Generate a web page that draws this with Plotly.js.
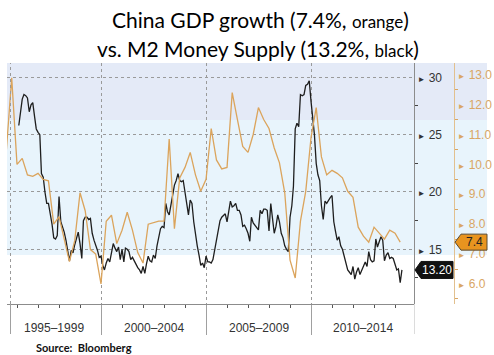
<!DOCTYPE html>
<html><head><meta charset="utf-8">
<script src="https://cdn.plot.ly/plotly-3.0.1.min.js"></script>
<style>html,body{margin:0;padding:0;background:#fff}</style>
</head><body><div id="chart" style="width:494px;height:355px"></div>
<script>
// M2 money supply, YoY %, monthly (month-end), Jan 1996 .. Apr 2014
const m2Start = [1996, 1];
const m2Values = [
  25.8, 27.2, 28.1, 28.5, 28.4, 28.2, 27.0, 27.6, 27.8, 26.6, 25.5, 25.2, // 1996
  25.0, 21.6, 21.3, 20.0, 19.0, 19.0, 18.2, 17.2, 16.0, 15.9, 16.2, 19.6, // 1997
  17.4, 17.0, 16.5, 15.8, 14.8, 14.0, 14.9, 14.7, 15.4, 16.1, 16.5, 15.5, // 1998
  14.2, 17.5, 17.8, 17.8, 17.6, 17.7, 16.4, 15.8, 15.4, 14.9, 14.3, 14.4, // 1999
  13.6, 13.2, 13.8, 14.2, 13.9, 14.8, 15.5, 15.1, 14.8, 15.2, 14.1, 15.0, // 2000
  13.9, 15.1, 15.0, 14.8, 14.1, 14.3, 14.0, 13.6, 13.4, 13.2, 12.9, 13.5, // 2001
  12.9, 13.7, 14.4, 14.0, 13.9, 14.5, 14.2, 15.3, 16.0, 16.8, 17.0, 16.9, // 2002
  19.0, 18.3, 18.0, 19.0, 19.8, 20.6, 21.0, 21.6, 21.0, 20.9, 21.0, 20.0, // 2003
  19.0, 18.0, 19.3, 19.0, 17.4, 16.2, 15.3, 14.5, 13.6, 13.8, 13.4, 14.4, // 2004
  13.9, 13.9, 13.8, 14.1, 14.9, 15.8, 16.8, 17.5, 17.8, 18.0, 18.1, 17.4, // 2005
  18.6, 19.2, 18.7, 18.8, 19.0, 18.4, 18.4, 18.0, 17.0, 17.1, 16.8, 16.4, // 2006
  15.7, 17.8, 17.3, 17.1, 17.0, 16.7, 18.4, 18.1, 18.5, 18.5, 18.4, 16.6, // 2007
  19.0, 17.5, 16.4, 17.0, 18.0, 17.4, 16.4, 16.0, 15.3, 15.0, 14.8, 17.8, // 2008
  18.8, 20.5, 25.5, 26.0, 25.7, 28.5, 28.4, 28.5, 29.3, 29.4, 29.7, 27.9, // 2009
  26.5, 25.0, 22.5, 21.5, 21.0, 18.8, 17.6, 19.2, 19.0, 19.3, 19.5, 19.7, // 2010
  17.4, 16.6, 15.8, 16.1, 15.3, 15.0, 14.4, 13.9, 13.2, 13.0, 12.8, 13.5, // 2011
  12.4, 13.0, 13.4, 12.8, 13.2, 13.6, 13.9, 13.5, 14.8, 14.1, 13.9, 14.0, // 2012
  15.9, 15.2, 15.7, 16.1, 15.8, 14.0, 14.5, 14.7, 14.2, 14.3, 14.2, 13.6, // 2013
  13.2, 13.3, 12.1, 13.2                                                  // 2014
];

// China real GDP growth, YoY %, quarterly (quarter-end), Q2 1995 .. Q1 2014
const gdpStart = [1995, 2];
const gdpValues = [
  10.5, 12.9, 10.0,
  10.2, 9.65, 9.6, 9.7,
  9.5, 9.45, 8.0, 8.25,
  7.45, 6.75, 7.45, 9.05,
  8.45, 7.15, 7.0, 6.0,
  8.1, 8.3, 7.35, 7.8,
  8.4, 7.8, 7.05, 6.7,
  8.0, 8.05, 8.1, 8.1,
  10.85, 7.85, 9.55, 9.9,
  10.4, 9.65, 9.1, 9.5,
  11.2, 10.15, 9.85, 9.9,
  12.4, 11.5, 10.6, 10.4,
  11.0, 11.9, 11.5, 11.2,
  10.55, 10.05, 9.05, 6.8,
  6.2, 8.1, 9.1, 10.9,
  11.9, 10.25, 9.65, 9.8,
  9.7, 9.55, 9.1, 8.9,
  7.9, 7.6, 7.4, 7.9,
  7.7, 7.5, 7.8, 7.7,
  7.4
];

const periodLabels = ['1995–1999', '2000–2004', '2005–2009', '2010–2014'];
const periodStartYears = [1995, 2000, 2005, 2010];
const m2TickVals = [15, 20, 25, 30];
const m2MinorVals = [12.5, 17.5, 22.5, 27.5];
const gdpTickVals = [6, 7, 8, 9, 10, 11, 12, 13];
const gdpMinorVals = [5.5, 6.5, 7.5, 8.5, 9.5, 10.5, 11.5, 12.5];
const xRange = ['1995-07-10', '2014-11-26'];

function ymd(d) { return d.toISOString().slice(0, 10); }
function monthEnd(y, m) { return ymd(new Date(Date.UTC(y, m, 0))); }

const m2Dates = m2Values.map((_, i) => {
  const k = (m2Start[1] - 1) + i;
  return monthEnd(m2Start[0] + Math.floor(k / 12), (k % 12) + 1);
});
const gdpDates = gdpValues.map((_, i) => {
  const k = (gdpStart[1] - 1) + i;
  return monthEnd(gdpStart[0] + Math.floor(k / 4), (k % 4) * 3 + 3);
});

const W = 494, H = 355;
const L = 7, R = 414, T = 63, B = 304;
const ph = B - T;
const px = v => v / W;
const py = v => (B - v) / ph;

const lastM2 = m2Values[m2Values.length - 1];
const lastGdp = gdpValues[gdpValues.length - 1];

const tri = '<span style="font-size:8px">►</span> ';
const yearTicks = [];
for (let y = 1996; y <= 2014; y++) yearTicks.push(y + '-01-01');

const gridDates = periodStartYears.slice(1).map(y => y + '-01-01');

const periodCenters = periodStartYears.map((y, i) => {
  const s = Math.max(Date.parse(y + '-01-01'), Date.parse(xRange[0]));
  const e = Math.min(Date.parse((y + 5) + '-01-01'), Date.parse(xRange[1]));
  return ymd(new Date((s + e) / 2));
});

const traces = [
  {x: gdpDates, y: gdpValues, yaxis: 'y2', type: 'scatter', mode: 'lines',
   line: {color: '#dba45c', width: 1.3}, hoverinfo: 'skip'},
  {x: m2Dates, y: m2Values, yaxis: 'y', type: 'scatter', mode: 'lines',
   line: {color: '#1e1e1e', width: 1.3}, hoverinfo: 'skip'}
];

const shapes = [
  {type: 'rect', layer: 'below', xref: 'paper', yref: 'paper', x0: px(L), x1: px(487), y0: py(120), y1: 1,
   fillcolor: '#e4eaf7', line: {width: 0}},
  {type: 'rect', layer: 'below', xref: 'paper', yref: 'paper', x0: px(L), x1: px(487), y0: py(255), y1: py(120),
   fillcolor: '#e8f4fc', line: {width: 0}},
  {type: 'line', xref: 'paper', yref: 'paper', x0: px(10.5), x1: px(10.5), y0: 0, y1: 1,
   line: {color: '#9a9a9a', width: 1, dash: 'dot'}},
  {type: 'line', xref: 'paper', yref: 'paper', x0: px(10.5), x1: px(10.5), y0: 0, y1: py(334),
   line: {color: '#a0a0a0', width: 1}},
  {type: 'line', xref: 'paper', yref: 'paper', x0: px(414.5), x1: px(414.5), y0: 0, y1: py(334),
   line: {color: '#dcdcdc', width: 1}},
  {type: 'path', xref: 'paper', xsizemode: 'pixel', xanchor: px(414), yref: 'y', ysizemode: 'pixel', yanchor: lastM2,
   path: 'M 1 0 L 7 8.5 L 39 8.5 L 39 -8.5 L 7 -8.5 Z', fillcolor: '#111', line: {color: '#111', width: 1}},
  {type: 'path', xref: 'paper', xsizemode: 'pixel', xanchor: px(454), yref: 'y2', ysizemode: 'pixel', yanchor: lastGdp,
   path: 'M 1 0 L 7 8 L 33 8 L 33 -8 L 7 -8 Z', fillcolor: '#e8941f', line: {color: '#5a4a30', width: 1}}
];

const sm = s => '<span style="font-size:17px">' + s + '</span>';
const titleFont = {family: 'Lato', size: 21, color: '#000'};
const annotations = [
  {text: 'China GDP growth (' + lastGdp + '%, ' + sm('orange') + ')', xref: 'paper', x: px(260), yref: 'paper', y: py(20),
   xanchor: 'center', yanchor: 'middle', showarrow: false, font: titleFont},
  {text: 'vs. M2 Money Supply (' + lastM2.toFixed(1) + '%, ' + sm('black') + ')', xref: 'paper', x: px(258), yref: 'paper', y: py(48),
   xanchor: 'center', yanchor: 'middle', showarrow: false, font: titleFont}
];
periodLabels.forEach((t, i) => annotations.push({
  text: t, xref: 'x', x: periodCenters[i], yref: 'paper', y: py(328), yanchor: 'middle', xanchor: 'center',
  showarrow: false, font: {family: 'Liberation Sans', size: 12, color: '#333'}
}));
annotations.push({text: '<b>Source:  Bloomberg</b>', xref: 'paper', x: px(34), yref: 'paper', y: py(347),
  xanchor: 'left', yanchor: 'middle', showarrow: false, font: {family: 'Lato', size: 11, color: '#111'}});
annotations.push({text: lastM2.toFixed(2), xref: 'paper', x: px(437), yref: 'y', y: lastM2,
  xanchor: 'center', yanchor: 'middle', showarrow: false, font: {family: 'Liberation Sans', size: 12, color: '#fff'}});
annotations.push({text: lastGdp.toFixed(1), xref: 'paper', x: px(474), yref: 'y2', y: lastGdp,
  xanchor: 'center', yanchor: 'middle', showarrow: false, font: {family: 'Liberation Sans', size: 12, color: '#222'}});

const layout = {
  width: W, height: H,
  margin: {l: 0, r: 0, t: T, b: H - B, pad: 0},
  paper_bgcolor: '#fff', plot_bgcolor: 'rgba(0,0,0,0)',
  showlegend: false,
  xaxis: {
    type: 'date', domain: [px(L), px(R)], range: xRange,
    showline: true, linecolor: '#8c8c8c', linewidth: 1,
    tickmode: 'array', tickvals: gridDates, ticks: 'outside', ticklen: 30, tickcolor: '#a0a0a0', tickwidth: 1,
    showticklabels: false,
    showgrid: true, gridcolor: '#9a9a9a', griddash: 'dot', gridwidth: 1,
    minor: {tickmode: 'array', tickvals: yearTicks, ticks: 'outside', ticklen: 3, tickcolor: '#555', showgrid: false},
    zeroline: false, fixedrange: true
  },
  yaxis: {
    range: [10.23, 31.25], side: 'right', anchor: 'x',
    showline: true, linecolor: '#8c8c8c', linewidth: 1,
    tickmode: 'array', tickvals: m2TickVals, ticktext: m2TickVals.map(v => tri + v), ticks: '',
    tickfont: {family: 'Liberation Sans', size: 12, color: '#333'},
    showgrid: true, gridcolor: '#9a9a9a', griddash: 'dot', gridwidth: 1,
    minor: {tickmode: 'array', tickvals: m2MinorVals, ticks: 'outside', ticklen: 3, tickcolor: '#444', showgrid: false},
    zeroline: false, fixedrange: true
  },
  yaxis2: {
    range: [5.331, 13.391], overlaying: 'y', side: 'right', anchor: 'free', position: px(454),
    showline: true, linecolor: '#e2c08e', linewidth: 1,
    tickmode: 'array', tickvals: gdpTickVals, ticktext: gdpTickVals.map(v => tri + v.toFixed(1)), ticks: '',
    tickfont: {family: 'Liberation Sans', size: 12, color: '#d9a664'},
    showgrid: false,
    minor: {tickmode: 'array', tickvals: gdpMinorVals, ticks: 'outside', ticklen: 3, tickcolor: '#d9a664', showgrid: false},
    zeroline: false, fixedrange: true
  },
  shapes: shapes,
  annotations: annotations
};

Plotly.newPlot('chart', traces, layout, {staticPlot: true, displayModeBar: false});
</script></body></html>
